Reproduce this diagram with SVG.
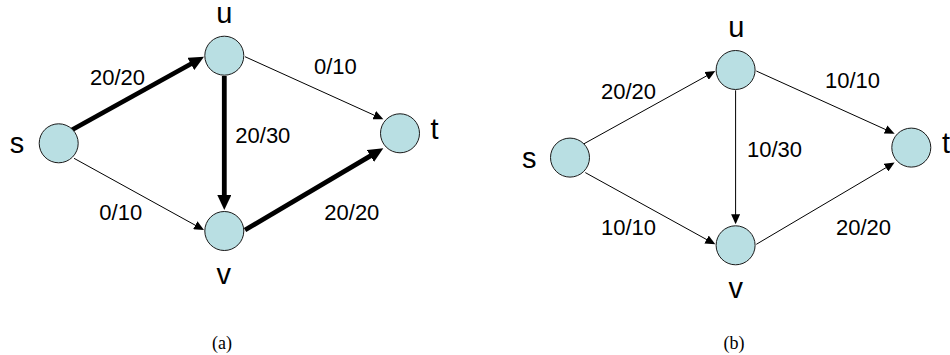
<svg xmlns="http://www.w3.org/2000/svg" width="950" height="355" viewBox="0 0 950 355">
<style>
.node{fill:#B9DFE3;stroke:#1a1a1a;stroke-width:1}
.thin{stroke:#000;stroke-width:1;fill:none}
.thick{stroke:#000;stroke-width:4.8;fill:none}
.el{font-family:"Liberation Sans",Arial,sans-serif;font-size:22px;fill:#000}
.nl{font-family:"Liberation Sans",Arial,sans-serif;font-size:29px;fill:#000;text-anchor:middle}
.cap{font-family:"Liberation Serif","Times New Roman",serif;font-size:18px;fill:#000;text-anchor:middle}
</style>
<defs>
<marker id="ahThick" markerUnits="userSpaceOnUse" markerWidth="16" markerHeight="14" refX="3" refY="7" orient="auto">
<path d="M0,0 L15,7 L0,14 z" fill="#000"/>
</marker>
<marker id="ahThin" markerUnits="userSpaceOnUse" markerWidth="11" markerHeight="9" refX="7" refY="4.5" orient="auto">
<path d="M0,0 L10,4.5 L0,9 z" fill="#000"/>
</marker>
</defs>
<g id="connectors">
<line class="thick" x1="71.7" y1="130" x2="193.5" y2="62.5" marker-end="url(#ahThick)"/>
<line class="thick" x1="224.3" y1="76" x2="224.3" y2="198" marker-end="url(#ahThick)"/>
<line class="thick" x1="245" y1="230" x2="373" y2="154.4" marker-end="url(#ahThick)"/>
<line class="thin" x1="245" y1="56.7" x2="380.6" y2="118.1" marker-end="url(#ahThin)"/>
<line class="thin" x1="74" y1="158.3" x2="201.4" y2="228.6" marker-end="url(#ahThin)"/>
<line class="thin" x1="583" y1="144.3" x2="712.7" y2="72.5" marker-end="url(#ahThin)"/>
<line class="thin" x1="735.6" y1="90.3" x2="735.6" y2="221.3" marker-end="url(#ahThin)"/>
<line class="thin" x1="756.3" y1="244.3" x2="892" y2="164.1" marker-end="url(#ahThin)"/>
<line class="thin" x1="756.3" y1="71" x2="891.9" y2="132.4" marker-end="url(#ahThin)"/>
<line class="thin" x1="585.3" y1="172.6" x2="712.7" y2="242.9" marker-end="url(#ahThin)"/>
</g>
<g id="edge-labels">
<text class="el" x="90" y="85">20/20</text>
<text class="el" x="314" y="74">0/10</text>
<text class="el" x="235.3" y="142.7">20/30</text>
<text class="el" x="99.3" y="220">0/10</text>
<text class="el" x="324.3" y="220">20/20</text>
<text class="el" x="601" y="99.3">20/20</text>
<text class="el" x="825" y="88.3">10/10</text>
<text class="el" x="747" y="157.3">10/30</text>
<text class="el" x="601" y="235.3">10/10</text>
<text class="el" x="836" y="235.3">20/20</text>
</g>
<g id="a-s"><circle class="node" cx="58.7" cy="143.3" r="19.5"/><text class="nl" x="17" y="152.7">s</text></g>
<g id="a-u"><circle class="node" cx="224.3" cy="55.7" r="19.5"/><text class="nl" x="224.3" y="23">u</text></g>
<g id="a-t"><circle class="node" cx="400" cy="133.3" r="19.5"/><text class="nl" x="434.5" y="138.5">t</text></g>
<g id="a-v"><circle class="node" cx="224.3" cy="231" r="19.5"/><text class="nl" x="223.7" y="284">v</text></g>
<g id="b-s"><circle class="node" cx="570" cy="157.6" r="19.5"/><text class="nl" x="529.3" y="168">s</text></g>
<g id="b-u"><circle class="node" cx="735.6" cy="70" r="19.5"/><text class="nl" x="736.3" y="36.5">u</text></g>
<g id="b-t"><circle class="node" cx="911.3" cy="147.6" r="19.5"/><text class="nl" x="946" y="152.5">t</text></g>
<g id="b-v"><circle class="node" cx="735.6" cy="245.3" r="19.5"/><text class="nl" x="735.8" y="298.3">v</text></g>
<g id="captions">
<text class="cap" x="222" y="349">(a)</text>
<text class="cap" x="734" y="349">(b)</text>
</g>
</svg>
